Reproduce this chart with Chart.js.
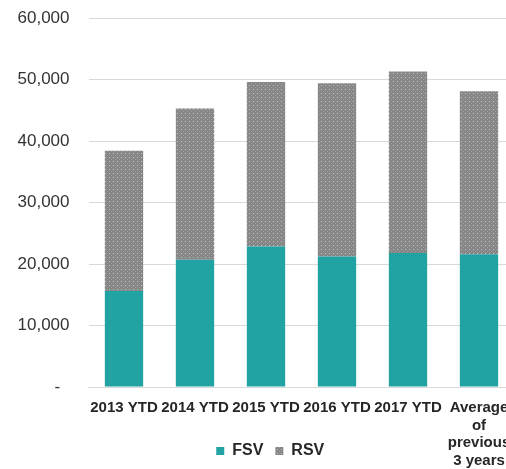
<!DOCTYPE html>
<html>
<head>
<meta charset="utf-8">
<script src="https://cdn.jsdelivr.net/npm/chart.js@4/dist/chart.umd.min.js"></script>
<style>
    html, body { margin: 0; padding: 0; background: #fff; overflow: hidden; }
    #wrap { width: 540px; height: 469px; }
</style>
</head>
<body>
<div id="wrap"><canvas id="svChart" width="540" height="469"></canvas></div>
<script>
// chart data
const categories = ['2013 YTD', '2014 YTD', '2015 YTD', '2016 YTD', '2017 YTD', ['Average', 'of', 'previous', '3 years']];
const fsvValues = [15600, 20700, 22850, 21200, 21800, 21600];
const rsvValues = [22800, 24600, 26750, 28200, 29500, 26500];

// dotted grey fill for RSV, like the Excel pattern
function makeDotPattern() {
    const p = document.createElement('canvas');
    p.width = 4;
    p.height = 4;
    const c = p.getContext('2d');
    c.fillStyle = '#878787';
    c.fillRect(0, 0, 4, 4);
    c.fillStyle = '#c0c0c0';
    c.fillRect(1, 1, 1, 1);
    c.fillStyle = '#9c9c9c';
    c.fillRect(3, 3, 1, 1);
    return c.createPattern(p, 'repeat');
}

// the legend sits off-centre in the original, and the long last label runs past the axis box
const layoutTweaks = {
    id: 'layoutTweaks',
    afterLayout(chart) {
        chart.legend.left += 13;
        chart.legend.right += 13;
        chart.scales.x.bottom = chart.height;
    }
};

document.addEventListener('DOMContentLoaded', function() {
    const ctx = document.getElementById('svChart').getContext('2d');
    const dots = makeDotPattern();
    new Chart(ctx, {
        type: 'bar',
        data: {
            labels: categories,
            datasets: [
                {
                    label: 'FSV',
                    data: fsvValues,
                    backgroundColor: '#21a3a3',
                    borderColor: '#21a3a3',
                    borderWidth: 0
                },
                {
                    label: 'RSV',
                    data: rsvValues,
                    backgroundColor: dots,
                    borderColor: dots,
                    borderWidth: 0
                }
            ]
        },
        options: {
            responsive: false,
            animation: false,
            categoryPercentage: 1,
            barPercentage: 0.54,
            layout: {
                padding: { top: 18, right: 25.5, bottom: 0, left: 0 }
            },
            plugins: {
                tooltip: { enabled: false },
                legend: {
                    position: 'bottom',
                    labels: {
                        boxWidth: 8,
                        boxHeight: 8,
                        padding: 12,
                        color: '#262626',
                        font: { family: 'Arial, "Liberation Sans"', size: 16, weight: 'bold' }
                    }
                }
            },
            scales: {
                x: {
                    stacked: true,
                    grid: { display: false, drawTicks: false },
                    border: { display: true, color: '#d9d9d9', width: 1 },
                    ticks: {
                        autoSkip: false,
                        maxRotation: 0,
                        minRotation: 0,
                        padding: 12,
                        color: '#262626',
                        font: { family: 'Arial, "Liberation Sans"', size: 15, weight: 'bold', lineHeight: 1.18 }
                    },
                    afterFit: function(scale) { scale.height = 44; }
                },
                y: {
                    stacked: true,
                    min: 0,
                    max: 60000,
                    grid: { color: '#d9d9d9', lineWidth: 1, drawTicks: false },
                    border: { display: false },
                    ticks: {
                        stepSize: 10000,
                        padding: 19,
                        color: '#333333',
                        font: { family: 'Arial, "Liberation Sans"', size: 17 },
                        callback: function(value) {
                            return value === 0 ? '-  ' : value.toLocaleString('en-US');
                        }
                    },
                    afterFit: function(scale) {
                        scale.width = 88.5;
                        scale.paddingTop = 0;
                        scale.paddingBottom = 0;
                    }
                }
            }
        },
        plugins: [layoutTweaks]
    });
});
</script>
</body>
</html>
